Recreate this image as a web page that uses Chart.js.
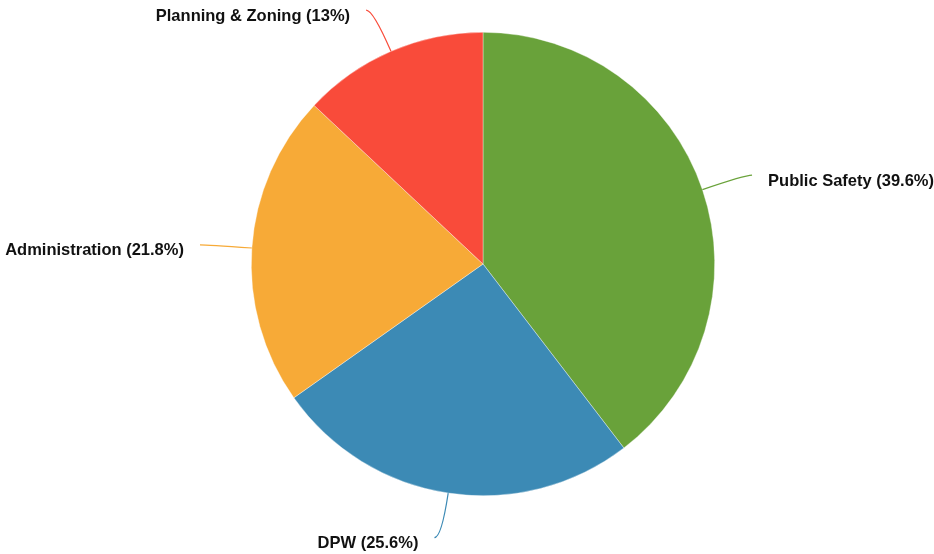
<!DOCTYPE html>
<html>
<head>
<meta charset="utf-8">
<script src="https://cdn.jsdelivr.net/npm/chart.js@4"></script>
<style>
html,body{margin:0;padding:0;background:#fff;}
#wrap{width:934px;height:554px;position:relative;}
</style>
</head>
<body>
<div id="wrap"><canvas id="c" width="934" height="554"></canvas></div>
<script>
const categories = ["Public Safety", "DPW", "Administration", "Planning & Zoning"];
const shares = [39.6, 25.6, 21.8, 13];
const shareLabels = ["39.6%", "25.6%", "21.8%", "13%"];
const colors = ["#69a23a", "#3c8ab5", "#f7aa37", "#f94b3a"];

const leaderPlugin = {
  id: 'leaders',
  afterDatasetsDraw(chart) {
    const ctx = chart.ctx;
    const meta = chart.getDatasetMeta(0);
    meta.data.forEach((arc, i) => {
      const p = arc.getProps(['x','y','startAngle','endAngle','outerRadius'], true);
      const mid = (p.startAngle + p.endAngle) / 2;
      const r = p.outerRadius;
      const cx = Math.cos(mid), sy = Math.sin(mid);
      const x0 = p.x + cx * r, y0 = p.y + sy * r;
      const x1 = p.x + cx * (r + 45), y1 = p.y + sy * (r + 45);
      const right = cx >= 0;
      const x2 = x1 + (right ? 7 : -7), y2 = y1;
      ctx.save();
      ctx.strokeStyle = colors[i];
      ctx.lineWidth = 1.2;
      ctx.beginPath();
      ctx.moveTo(x0, y0);
      ctx.quadraticCurveTo(x1, y1, x2, y2);
      ctx.stroke();
      ctx.fillStyle = '#111';
      ctx.font = 'bold 16.5px "Liberation Sans", Arial, sans-serif';
      ctx.textAlign = right ? 'left' : 'right';
      ctx.textBaseline = 'alphabetic';
      ctx.fillText(categories[i] + ' (' + shareLabels[i] + ')', x2 + (right ? 16 : -16), y2 + 10.5);
      ctx.restore();
    });
  }
};

new Chart(document.getElementById('c'), {
  type: 'pie',
  data: {
    labels: categories,
    datasets: [{
      data: shares,
      backgroundColor: colors,
      borderColor: 'rgba(255,255,255,0.6)',
      borderWidth: 0.6
    }]
  },
  options: {
    responsive: false,
    animation: false,
    layout: { padding: { left: 251, right: 219, top: 32, bottom: 58 } },
    plugins: { legend: { display: false }, tooltip: { enabled: false } }
  },
  plugins: [leaderPlugin]
});
</script>
</body>
</html>
